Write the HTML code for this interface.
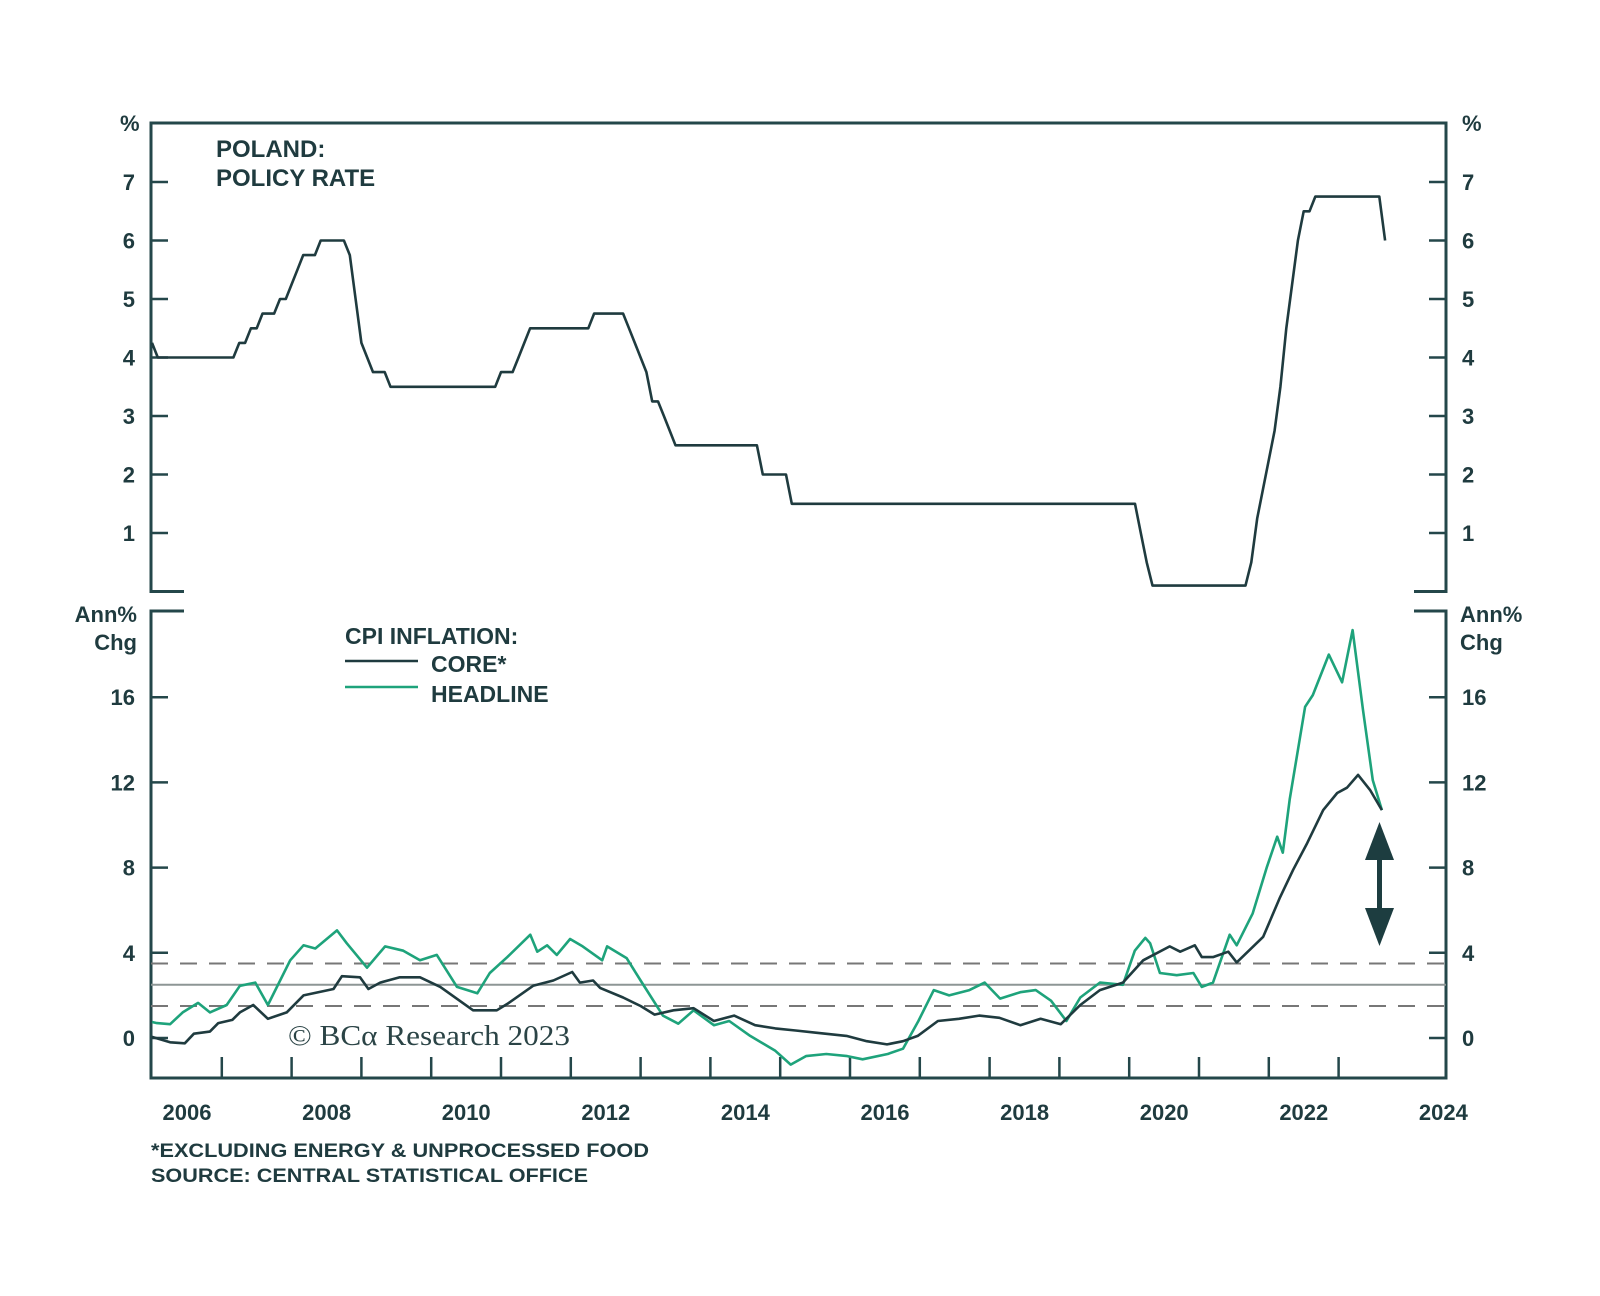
<!DOCTYPE html>
<html><head><meta charset="utf-8"><style>
html,body{margin:0;padding:0;background:#fff;}
svg text{font-family:"Liberation Sans",sans-serif;font-weight:bold;fill:#1f3b3f;}
svg text.serif{font-family:"Liberation Serif",serif;font-weight:normal;fill:#2b4446;}
</style></head><body>
<svg id="chart" width="1600" height="1291" viewBox="0 0 1600 1291" xmlns="http://www.w3.org/2000/svg">
<g id="axes"></g>
<g id="series"></g>
<g id="labels"></g>
</svg>
<script>
// ---- data ----
const rateChangeDates = ["2006-01","2006-02","2007-04","2007-06","2007-08","2007-11","2008-01","2008-02","2008-03","2008-06","2008-11","2008-12","2009-01","2009-02","2009-03","2009-06","2011-01","2011-04","2011-05","2011-06","2012-05","2012-11","2012-12","2013-01","2013-02","2013-03","2013-05","2013-06","2013-07","2014-10","2015-03","2020-03","2020-04","2020-05","2021-10","2021-11","2021-12","2022-01","2022-02","2022-03","2022-04","2022-05","2022-06","2022-07","2022-09","2023-09"];
const rateChangeValues = [4.25,4.0,4.25,4.5,4.75,5.0,5.25,5.5,5.75,6.0,5.75,5.0,4.25,4.0,3.75,3.5,3.75,4.0,4.25,4.5,4.75,4.5,4.25,4.0,3.75,3.25,3.0,2.75,2.5,2.0,1.5,1.0,0.5,0.1,0.5,1.25,1.75,2.25,2.75,3.5,4.5,5.25,6.0,6.5,6.75,6.0];
const rateEnd = "2023-09";

const coreT = [2006.0,2006.26,2006.47,2006.6,2006.83,2006.95,2007.15,2007.26,2007.45,2007.66,2007.93,2008.17,2008.6,2008.72,2008.98,2009.1,2009.27,2009.55,2009.84,2010.13,2010.6,2010.94,2011.09,2011.46,2011.75,2012.02,2012.13,2012.32,2012.42,2012.75,2013.0,2013.2,2013.47,2013.76,2014.05,2014.34,2014.64,2014.93,2015.22,2015.51,2015.95,2016.24,2016.53,2016.76,2016.97,2017.26,2017.56,2017.85,2018.14,2018.44,2018.73,2019.02,2019.3,2019.58,2019.91,2020.2,2020.58,2020.73,2020.94,2021.04,2021.2,2021.42,2021.54,2021.92,2022.16,2022.35,2022.55,2022.78,2022.98,2023.12,2023.28,2023.45,2023.62];
const coreV = [0.05,-0.2,-0.25,0.2,0.3,0.7,0.85,1.2,1.55,0.9,1.2,2.0,2.3,2.9,2.85,2.3,2.6,2.85,2.85,2.4,1.3,1.3,1.6,2.45,2.7,3.1,2.6,2.7,2.35,1.9,1.5,1.1,1.3,1.4,0.8,1.05,0.6,0.45,0.35,0.25,0.1,-0.15,-0.3,-0.15,0.1,0.8,0.9,1.05,0.95,0.6,0.9,0.65,1.55,2.25,2.6,3.65,4.3,4.05,4.35,3.8,3.8,4.05,3.55,4.75,6.6,7.9,9.15,10.7,11.5,11.75,12.35,11.65,10.7];

const headT = [2006.0,2006.07,2006.26,2006.44,2006.66,2006.83,2007.07,2007.26,2007.48,2007.66,2007.98,2008.17,2008.34,2008.65,2008.79,2009.08,2009.34,2009.6,2009.84,2010.08,2010.37,2010.66,2010.84,2011.09,2011.42,2011.52,2011.66,2011.8,2011.99,2012.17,2012.45,2012.52,2012.8,2013.0,2013.32,2013.54,2013.76,2014.05,2014.27,2014.57,2014.93,2015.15,2015.37,2015.66,2015.96,2016.18,2016.54,2016.76,2016.98,2017.2,2017.42,2017.71,2017.93,2018.15,2018.44,2018.66,2018.88,2019.1,2019.3,2019.58,2019.91,2020.08,2020.23,2020.3,2020.44,2020.68,2020.92,2021.04,2021.2,2021.44,2021.54,2021.77,2021.97,2022.12,2022.2,2022.3,2022.52,2022.63,2022.86,2023.05,2023.2,2023.35,2023.49,2023.62];
const headV = [0.75,0.7,0.65,1.2,1.65,1.2,1.55,2.45,2.6,1.55,3.65,4.35,4.2,5.05,4.45,3.3,4.3,4.1,3.65,3.9,2.4,2.1,3.05,3.8,4.85,4.05,4.35,3.9,4.65,4.3,3.65,4.3,3.75,2.7,1.05,0.67,1.3,0.6,0.8,0.1,-0.6,-1.25,-0.85,-0.75,-0.85,-1.0,-0.75,-0.5,0.8,2.25,2.0,2.25,2.6,1.85,2.15,2.25,1.75,0.8,1.9,2.6,2.5,4.1,4.7,4.45,3.05,2.95,3.05,2.4,2.6,4.85,4.35,5.85,8.0,9.45,8.7,11.2,15.55,16.1,18.0,16.7,19.15,15.4,12.1,10.7];

const topTicks = [1,2,3,4,5,6,7];
const bottomTicks = [0,4,8,12,16];
const yearLabels = [2006,2008,2010,2012,2014,2016,2018,2020,2022,2024];
const bandValues = [1.5,2.5,3.5];

// ---- scales ----
const L = 151, R = 1446;
const xT = t => 152 + (t - 2006) * 69.8;
const yTop = v => 591.5 - 58.5 * v;
const yBot = v => 1038 - 21.3 * v;
const DARK = "#1f3b3f", AX = "#24474a", GREEN = "#1ea37b";
const NS = "http://www.w3.org/2000/svg";
function mk(tag, attrs, parent){const e=document.createElementNS(NS,tag);for(const k in attrs)e.setAttribute(k,attrs[k]);parent.appendChild(e);return e;}
const gA = document.getElementById('axes'), gS = document.getElementById('series'), gL = document.getElementById('labels');

// ---- axes: top panel ----
let p;
p = mk('path',{d:`M184 591.5H${L}V123H${R}V591.5H1414`,fill:'none',stroke:AX,'stroke-width':3},gA);


topTicks.forEach(v=>{
  const y=yTop(v);
  let t1=mk('line',{x1:L,x2:L+17,y1:y,y2:y,stroke:AX,'stroke-width':2.5},gA);
  
  
  let t2=mk('line',{x1:R-17,x2:R,y1:y,y2:y,stroke:AX,'stroke-width':2.5},gA);
  
  
  let a=mk('text',{x:135,y:y+8,'font-size':22,'text-anchor':'end'},gL);a.textContent=v;
  
  
  let b=mk('text',{x:1462,y:y+8,'font-size':22},gL);b.textContent=v;
  
  
});
// ---- axes: bottom panel ----
p = mk('path',{d:`M184 611H${L}V1078H${R}V611H1414`,fill:'none',stroke:AX,'stroke-width':3},gA);


bottomTicks.forEach(v=>{
  const y=yBot(v);
  let t1=mk('line',{x1:L,x2:L+17,y1:y,y2:y,stroke:AX,'stroke-width':2.5},gA);
  
  
  let t2=mk('line',{x1:R-17,x2:R,y1:y,y2:y,stroke:AX,'stroke-width':2.5},gA);
  
  
  let a=mk('text',{x:135,y:y+8,'font-size':22,'text-anchor':'end'},gL);a.textContent=v;
  
  
  let b=mk('text',{x:1462,y:y+8,'font-size':22},gL);b.textContent=v;
  
  
});
for(let yr=2007; yr<=2023; yr++){
  const x=xT(yr);
  let t=mk('line',{x1:x,x2:x,y1:1057,y2:1078,stroke:AX,'stroke-width':2.5},gA);
  
  
}
yearLabels.forEach(yr=>{
  let t=mk('text',{x:xT(yr)+35,y:1120,'font-size':22,'text-anchor':'middle'},gL);t.textContent=yr;
  
  
});
// bands
bandValues.forEach((v,i)=>{
  let l=mk('line',{x1:L,x2:R,y1:yBot(v),y2:yBot(v),stroke:i===1?'#8d9695':'#777',
    'stroke-width':2,'stroke-dasharray':i===1?'none':'17 12'},gA);
  
  
});

// ---- series ----
const mIdx = s => {const [y,m]=s.split('-').map(Number);return y*12+(m-1);};
const rPts=[];
const start=mIdx(rateChangeDates[0]), end=mIdx(rateEnd);
let ci=0;
for(let m=start;m<=end;m++){
  while(ci+1<rateChangeDates.length && mIdx(rateChangeDates[ci+1])<=m) ci++;
  const t=m/12;
  rPts.push(xT(t).toFixed(1)+','+yTop(rateChangeValues[ci]).toFixed(1));
}
p=mk('polyline',{points:rPts.join(' '),fill:'none',stroke:DARK,'stroke-width':2.6,'stroke-linejoin':'round'},gS);



p=mk('polyline',{points:headT.map((t,i)=>xT(t).toFixed(1)+','+yBot(headV[i]).toFixed(1)).join(' '),fill:'none',stroke:GREEN,'stroke-width':2.6,'stroke-linejoin':'round'},gS);


p=mk('polyline',{points:coreT.map((t,i)=>xT(t).toFixed(1)+','+yBot(coreV[i]).toFixed(1)).join(' '),fill:'none',stroke:DARK,'stroke-width':2.6,'stroke-linejoin':'round'},gS);


</script>
<svg style="position:absolute;left:0;top:0" width="1600" height="1291">
  <g fill="#1d3d40">
    <rect x="1377" y="850" width="5" height="70"/>
    <polygon points="1379.5,822 1365,860 1394,860"/>
    <polygon points="1379.5,946 1365,908 1394,908"/>
  </g>
  <g>
    <text x="120" y="131" font-size="22">%</text>
    <text x="1462" y="131" font-size="22">%</text>
    <text x="216" y="157" font-size="24">POLAND:</text>
    <text x="216" y="186" font-size="24">POLICY RATE</text>
    <text x="137" y="622" font-size="22" text-anchor="end">Ann%</text>
    <text x="137" y="650" font-size="22" text-anchor="end">Chg</text>
    <text x="1460" y="622" font-size="22">Ann%</text>
    <text x="1460" y="650" font-size="22">Chg</text>
    <text x="345" y="644" font-size="23">CPI INFLATION:</text>
    <text x="431" y="672" font-size="23">CORE*</text>
    <text x="431" y="702" font-size="23">HEADLINE</text>
    <text x="151" y="1157" font-size="19" textLength="498" lengthAdjust="spacingAndGlyphs">*EXCLUDING ENERGY &amp; UNPROCESSED FOOD</text>
    <text x="151" y="1182" font-size="19" textLength="437" lengthAdjust="spacingAndGlyphs">SOURCE: CENTRAL STATISTICAL OFFICE</text>
  </g>
  <line x1="345" x2="418" y1="661" y2="661" stroke="#1f3b3f" stroke-width="2.5"/>
  <line x1="345" x2="418" y1="687" y2="687" stroke="#1ea37b" stroke-width="2.5"/>
  <text class="serif" x="288" y="1045" font-size="28" textLength="282" lengthAdjust="spacingAndGlyphs">© BCα Research 2023</text>
</svg>
</body></html>
